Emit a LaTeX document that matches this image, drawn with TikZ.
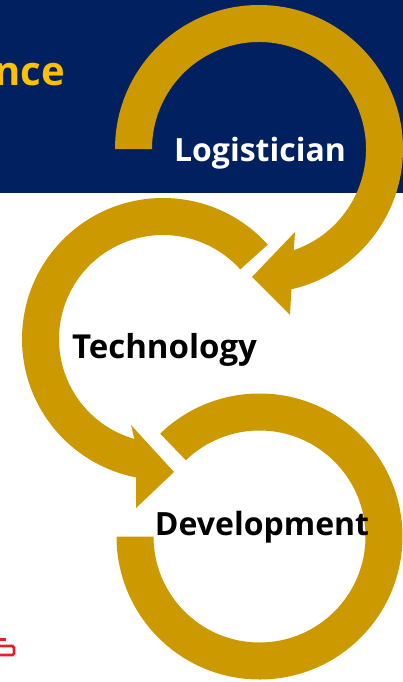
\documentclass[tikz,border=0pt]{standalone}
\usepackage{fontspec}
\setmainfont{Open Sans}
\usetikzlibrary{calc}
\definecolor{navybg}{HTML}{002060}
\definecolor{ringgold}{HTML}{CC9900}
\definecolor{titlegold}{HTML}{FFC000}
\definecolor{logored}{HTML}{E3202B}
\tikzset{
  ring/.style={fill=ringgold},
  lbl/.style={anchor=base, inner sep=0pt, font=\bfseries\fontsize{#1}{#1}\selectfont},
}
\begin{document}
\begin{tikzpicture}[x=1pt,y=-1pt]
\useasboundingbox (0,0) rectangle (403,682);
% header band
\fill[navybg] (0,0) rectangle (403,193);
\node[anchor=base east, inner sep=0pt, text=titlegold, font=\bfseries\fontsize{40}{44}\selectfont] (title) at (65,86) {nce};

% ring 1 (Logistician)
\coordinate (c1) at (259,149);
\fill[ring] ($(c1)+(180:144)$) arc[start angle=180,end angle=437,radius=144]
  -- (290,315) -- (252,277) -- (295,232)
  -- ($(c1)+(431:107)$) arc[start angle=431,end angle=180,radius=107] -- cycle;

% ring 2 (Technology)
\coordinate (c2) at (163,339);
\fill[ring] ($(c2)+(-42:141)$) arc[start angle=-42,end angle=-259,radius=141]
  -- (136,508) -- (174,472) -- (131,425)
  -- ($(c2)+(-254:104)$) arc[start angle=-254,end angle=-42,radius=104] -- cycle;

% ring 3 (Development)
\coordinate (c3) at (259.5,536.5);
\fill[ring] ($(c3)+(-134:143)$) arc[start angle=-134,end angle=180,radius=143]
  -- ($(c3)+(180:106)$) arc[start angle=180,end angle=-134,radius=106] -- cycle;

% labels
\node[lbl=32, text=white] (logistician) at (260,161) {Logistician};
\node[lbl=33, text=black] (technology) at (164.5,358) {Technology};
\node[lbl=32, text=black] (development) at (262,535) {Development};

% red logo fragment
\draw[logored, line width=2.6pt] (0,639.5) -- (6,639.5);
\draw[logored, line width=2.6pt, rounded corners=1.5pt] (0,646) -- (14,646) -- (14,655) -- (0,655);
\end{tikzpicture}
\end{document}
